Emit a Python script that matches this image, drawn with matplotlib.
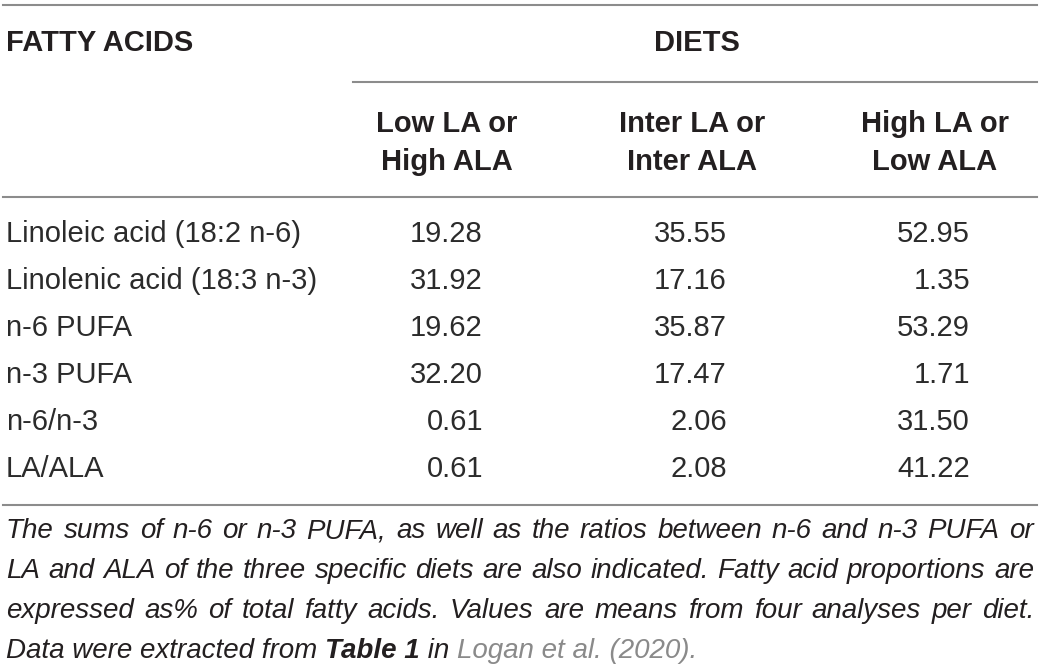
import matplotlib.pyplot as plt

header_left = "FATTY ACIDS"
header_group = "DIETS"
diets = ["Low LA or\nHigh ALA", "Inter LA or\nInter ALA", "High LA or\nLow ALA"]
acids = ["Linoleic acid (18:2 n-6)", "Linolenic acid (18:3 n-3)", "n-6 PUFA",
         "n-3 PUFA", "n-6/n-3", "LA/ALA"]
low_la = ["19.28", "31.92", "19.62", "32.20", "0.61", "0.61"]
inter_la = ["35.55", "17.16", "35.87", "17.47", "2.06", "2.08"]
high_la = ["52.95", "1.35", "53.29", "1.71", "31.50", "41.22"]
caption = [
    "The sums of n-6 or n-3 PUFA, as well as the ratios between n-6 and n-3 PUFA or",
    "LA and ALA of the three specific diets are also indicated. Fatty acid proportions are",
    "expressed as% of total fatty acids. Values are means from four analyses per diet.",
]

W, H = 1040, 666
fig = plt.figure(figsize=(W / 100, H / 100), dpi=100)
ax = fig.add_axes([0, 0, 1, 1])
ax.set_xlim(0, W)
ax.set_ylim(H, 0)
ax.axis("off")

ink = "#231f20"
rule = "#8c8c8c"
bold = dict(family="Liberation Sans", weight="bold", size=21, color=ink)
body = dict(family="Liberation Sans", size=21, color="#2b2b2b")
ital = dict(family="Liberation Sans", style="italic", size=20, color=ink)

# rules
for y, x0 in [(5, 3), (197, 3), (505, 3)]:
    ax.plot([x0, 1037], [y, y], color=rule, lw=1.5)
ax.plot([353, 1037], [82, 82], color=rule, lw=1.5)

# headers
ax.text(6, 43, header_left, ha="left", va="center", **bold)
ax.text(697, 43, header_group, ha="center", va="center", **bold)
col_centers = [447, 692, 935]
for xc, d in zip(col_centers, diets):
    ax.text(xc, 143, d, ha="center", va="center", linespacing=1.5, **bold)

# body rows
row_y = [234, 281, 328, 375, 422, 469]
col_right = [483, 727, 970]
for i, y in enumerate(row_y):
    ax.text(6, y, acids[i], ha="left", va="center", **body)
    for xr, col in zip(col_right, [low_la, inter_la, high_la]):
        ax.text(xr, y, col[i], ha="right", va="center", **body)

# caption, justified lines
fig.canvas.draw()
renderer = fig.canvas.get_renderer()
cap_y = [531, 571, 611]
left, right = 6, 1034
for line, y in zip(caption, cap_y):
    words = line.split(" ")
    arts = [ax.text(0, y, w, ha="left", va="center", **ital) for w in words]
    widths = [a.get_window_extent(renderer).width for a in arts]
    gap = (right - left - sum(widths)) / (len(words) - 1)
    x = left
    for a, w in zip(arts, widths):
        a.set_x(x)
        x += w + gap

# last caption line with bold reference and grey citation
y = 651
parts = [("Data were extracted from ", ital),
         ("Table 1", dict(ital, weight="bold")),
         (" in ", ital),
         ("Logan et al. (2020).", dict(ital, color="#8a8a8a"))]
x = left
for s, st in parts:
    t = ax.text(x, y, s, ha="left", va="center", **st)
    x += t.get_window_extent(renderer).width

fig.savefig("out.png", dpi=100)
